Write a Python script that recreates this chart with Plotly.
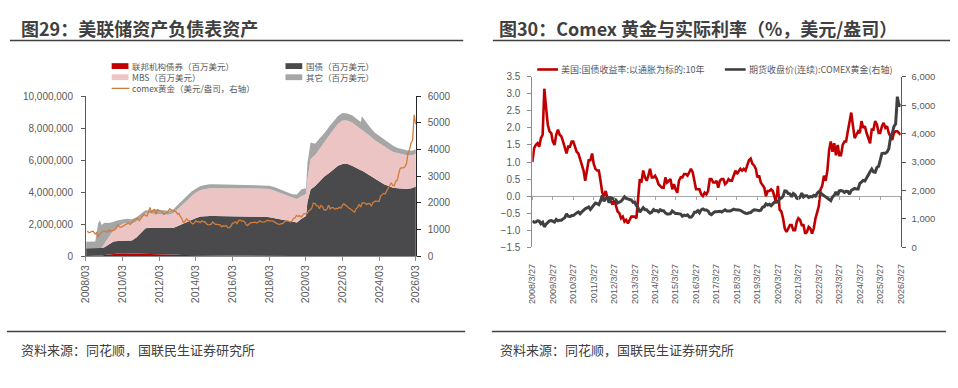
import plotly.graph_objects as go
import pandas as pd

# ---------------- Left chart data (百万美元) ----------------
bs_dates = [
    "2008-03-05", "2008-06-04", "2008-09-03", "2008-10-01", "2008-10-29", "2008-12-03", "2009-01-07",
    "2009-03-04", "2009-06-03", "2009-09-02", "2009-12-02",
    "2010-03-03", "2010-06-02", "2010-09-01", "2010-12-01",
    "2011-03-02", "2011-06-01", "2011-09-07", "2011-12-07",
    "2012-03-07", "2012-06-06", "2012-09-05", "2012-12-05",
    "2013-03-06", "2013-06-05", "2013-09-04", "2013-12-04",
    "2014-03-05", "2014-06-04", "2014-09-03", "2014-12-03",
    "2015-03-04", "2015-06-03", "2015-09-02", "2015-12-02",
    "2016-03-02", "2016-06-01", "2016-09-07", "2016-12-07",
    "2017-03-01", "2017-06-07", "2017-09-06", "2017-12-06",
    "2018-03-07", "2018-06-06", "2018-09-05", "2018-12-05",
    "2019-03-06", "2019-06-05", "2019-09-04", "2019-12-04",
    "2020-03-04", "2020-04-01", "2020-06-03", "2020-09-02", "2020-12-02",
    "2021-03-03", "2021-06-02", "2021-09-01", "2021-12-01",
    "2022-03-02", "2022-06-01", "2022-09-07", "2022-12-07",
    "2023-03-01", "2023-03-22", "2023-06-07", "2023-09-06", "2023-12-06",
    "2024-03-06", "2024-06-05", "2024-09-04", "2024-12-04",
    "2025-03-05", "2025-06-04", "2025-09-03", "2025-12-03",
    "2026-03-04",
]
agency_debt = [
    0, 0, 0, 0, 0, 20000, 30000, 60000, 100000, 140000, 160000,
    169000, 165000, 153000, 148000,
    135000, 115000, 108000, 104000,
    96000, 88000, 82000, 77000,
    72000, 64000, 60000, 57000,
    50000, 44000, 41000, 39000,
    37000, 35000, 34000, 33000,
    31000, 22000, 17000, 16000,
    13000, 11000, 7000, 4000,
    4000, 2400, 2400, 2400,
    2400, 2400, 2400, 2400,
    2400, 2400, 2400, 2400, 2400,
    2400, 2400, 2400, 2400,
    2400, 2400, 2400, 2400,
    2400, 2400, 2400, 2400, 2400,
    2400, 2400, 2400, 2400,
    2400, 2400, 2400, 2400,
    2400,
]
treasury = [
    480000, 478000, 479000, 476000, 476000, 476000, 475000, 490000, 640000, 770000, 776000,
    777000, 777000, 820000, 1016000,
    1330000, 1620000, 1660000, 1660000,
    1660000, 1660000, 1650000, 1670000,
    1800000, 1940000, 2080000, 2210000,
    2330000, 2420000, 2450000, 2460000,
    2460000, 2460000, 2460000, 2460000,
    2460000, 2460000, 2460000, 2460000,
    2460000, 2460000, 2460000, 2450000,
    2420000, 2360000, 2290000, 2230000,
    2170000, 2110000, 2090000, 2330000,
    2500000, 3370000, 4150000, 4370000, 4690000,
    4970000, 5170000, 5420000, 5650000,
    5760000, 5770000, 5650000, 5480000,
    5360000, 5340000, 5190000, 5000000, 4810000,
    4640000, 4480000, 4380000, 4270000,
    4240000, 4200000, 4190000, 4230000,
    4340000,
]
mbs = [
    0, 0, 0, 0, 0, 0, 0, 236000, 462000, 715000, 908000,
    1069000, 1118000, 1052000, 992000,
    952000, 918000, 886000, 849000,
    850000, 854000, 843000, 927000,
    1050000, 1190000, 1330000, 1490000,
    1600000, 1660000, 1710000, 1740000,
    1740000, 1730000, 1740000, 1750000,
    1750000, 1740000, 1740000, 1740000,
    1760000, 1770000, 1770000, 1760000,
    1760000, 1730000, 1690000, 1640000,
    1590000, 1540000, 1480000, 1410000,
    1370000, 1450000, 1920000, 1940000, 2040000,
    2180000, 2330000, 2480000, 2620000,
    2710000, 2710000, 2700000, 2650000,
    2600000, 2590000, 2550000, 2490000, 2430000,
    2400000, 2360000, 2300000, 2240000,
    2200000, 2160000, 2110000, 2070000,
    2030000,
]
other_assets = [
    420000, 420000, 430000, 1020000, 1550000, 1740000, 1440000, 1290000, 860000, 515000, 396000,
    275000, 270000, 275000, 264000,
    233000, 217000, 196000, 317000,
    264000, 268000, 235000, 236000,
    278000, 276000, 240000, 273000,
    240000, 256000, 239000, 251000,
    245000, 250000, 245000, 240000,
    240000, 245000, 240000, 245000,
    225000, 220000, 220000, 230000,
    216000, 218000, 208000, 208000,
    198000, 218000, 268000, 428000,
    368000, 998000, 1028000, 708000, 628000,
    528000, 568000, 548000, 488000,
    468000, 428000, 448000, 418000,
    418000, 808000, 648000, 548000, 468000,
    458000, 438000, 418000, 388000,
    318000, 318000, 308000, 278000,
    288000,
]

# COMEX gold (美元/盎司), monthly from 2008/03 to 2026/03
gold_price = [
    930, 880, 890, 930, 920, 830, 880, 720, 815, 880,                          # 2008
    930, 940, 920, 890, 980, 930, 955, 955, 1000, 1040, 1180, 1095,            # 2009
    1080, 1115, 1115, 1180, 1210, 1245, 1180, 1245, 1305, 1355, 1385, 1420,    # 2010
    1330, 1410, 1440, 1555, 1535, 1500, 1630, 1825, 1620, 1720, 1745, 1565,    # 2011
    1740, 1710, 1670, 1665, 1560, 1600, 1615, 1690, 1775, 1720, 1710, 1675,    # 2012
    1665, 1580, 1595, 1475, 1390, 1235, 1310, 1395, 1325, 1325, 1250, 1200,    # 2013
    1240, 1325, 1285, 1295, 1250, 1320, 1285, 1285, 1210, 1170, 1175, 1185,    # 2014
    1280, 1215, 1185, 1185, 1190, 1170, 1095, 1135, 1115, 1140, 1065, 1060,    # 2015
    1115, 1235, 1235, 1290, 1215, 1320, 1350, 1310, 1315, 1275, 1175, 1150,    # 2016
    1210, 1250, 1250, 1270, 1270, 1240, 1270, 1320, 1280, 1270, 1275, 1305,    # 2017
    1345, 1320, 1325, 1315, 1300, 1250, 1225, 1200, 1190, 1215, 1220, 1280,    # 2018
    1320, 1315, 1295, 1285, 1305, 1410, 1430, 1525, 1485, 1515, 1465, 1520,    # 2019
    1590, 1585, 1595, 1700, 1730, 1800, 1985, 1975, 1890, 1880, 1780, 1895,    # 2020
    1850, 1730, 1715, 1770, 1905, 1770, 1815, 1815, 1755, 1785, 1775, 1830,    # 2021
    1795, 1900, 1955, 1910, 1850, 1810, 1780, 1725, 1670, 1640, 1770, 1825,    # 2022
    1945, 1835, 1985, 2000, 1980, 1930, 1970, 1965, 1870, 2000, 2040, 2070,    # 2023
    2050, 2050, 2240, 2300, 2350, 2330, 2450, 2530, 2660, 2750, 2650, 2640,    # 2024
    2810, 2850, 3120, 3300, 3310, 3310, 3350, 3470, 3860, 4000, 4250, 4340,    # 2025
    5300, 4950, 5050,                                                          # 2026
]

# 美国:国债收益率:以通胀为标的:10年 (%), monthly from 2008/03 to 2026/03
real_yield = [
    1.0, 1.4, 1.5, 1.55, 1.45, 1.7, 1.8, 3.15, 2.6, 2.1,                       # 2008
    1.9, 1.85, 1.6, 1.5, 1.8, 1.95, 1.8, 1.75, 1.6, 1.4, 1.25, 1.45,           # 2009
    1.45, 1.6, 1.6, 1.45, 1.3, 1.25, 1.1, 0.95, 0.75, 0.45, 0.75, 1.05,        # 2010
    1.05, 1.25, 0.95, 0.8, 0.75, 0.75, 0.45, 0.1, 0.0, 0.15, -0.05, -0.05,     # 2011
    -0.15, -0.25, -0.1, -0.3, -0.45, -0.5, -0.65, -0.6, -0.75, -0.7, -0.8, -0.7,  # 2012
    -0.6, -0.6, -0.6, -0.65, -0.15, 0.5, 0.4, 0.75, 0.55, 0.45, 0.6, 0.8,      # 2013
    0.55, 0.55, 0.6, 0.5, 0.35, 0.3, 0.25, 0.25, 0.55, 0.4, 0.45, 0.5,         # 2014
    0.2, 0.35, 0.2, 0.1, 0.45, 0.55, 0.55, 0.65, 0.65, 0.6, 0.7, 0.8,          # 2015
    0.7, 0.4, 0.2, 0.2, 0.2, 0.05, 0.0, 0.1, 0.05, 0.15, 0.5, 0.5,             # 2016
    0.4, 0.4, 0.45, 0.25, 0.45, 0.5, 0.5, 0.35, 0.4, 0.5, 0.45, 0.45,          # 2017
    0.6, 0.75, 0.65, 0.75, 0.8, 0.75, 0.8, 0.75, 0.9, 1.05, 1.1, 0.95,         # 2018
    0.9, 0.8, 0.55, 0.6, 0.4, 0.3, 0.25, 0.0, 0.15, 0.15, 0.2, 0.15,           # 2019
    -0.05, -0.2, 0.3, -0.4, -0.45, -0.65, -0.95, -1.05, -0.95, -0.85, -0.85, -1.0,  # 2020
    -1.0, -0.75, -0.65, -0.7, -0.85, -0.85, -1.1, -1.05, -0.9, -0.95, -1.1, -0.95,  # 2021
    -0.65, -0.45, -0.3, 0.2, 0.3, 0.6, 0.45, 0.75, 1.35, 1.6, 1.3, 1.55,       # 2022
    1.2, 1.5, 1.2, 1.2, 1.5, 1.6, 1.6, 1.9, 2.2, 2.45, 2.05, 1.7,              # 2023
    1.8, 1.9, 1.85, 2.2, 2.0, 2.05, 1.85, 1.7, 1.55, 1.95, 1.95, 2.2,          # 2024
    2.1, 1.85, 1.85, 2.05, 2.15, 2.0, 2.05, 1.85, 1.75, 1.65, 1.85, 1.9,       # 2025
    1.9, 1.85, 1.8,                                                            # 2026
]

left_ticks = ["2008-03-01", "2010-03-01", "2012-03-01", "2014-03-01", "2016-03-01",
              "2018-03-01", "2020-03-01", "2022-03-01", "2024-03-01", "2026-03-01"]
left_ticktext = ["2008/03", "2010/03", "2012/03", "2014/03", "2016/03",
                 "2018/03", "2020/03", "2022/03", "2024/03", "2026/03"]
right_ticks = [f"{y}-03-27" for y in range(2008, 2027)]
right_ticktext = [f"{y}/3/27" for y in range(2008, 2027)]

monthly_dates = pd.date_range("2008-03-01", periods=len(gold_price), freq="MS") + pd.Timedelta(days=26)

# ---------------- Geometry helpers ----------------
W, H = 958, 388
def px(x): return x / W
def py(y): return 1 - y / H

CJK = "Noto Sans CJK SC"
LAT = "Liberation Sans"
TICKC = "#595959"

fig = go.Figure()

# Left: stacked areas
for name, vals, col in [
    ("联邦机构债券（百万美元）", agency_debt, "#c00000"),
    ("国债（百万美元）", treasury, "#4a4a4c"),
    ("MBS（百万美元）", mbs, "#ecc4c4"),
    ("其它（百万美元）", other_assets, "#a6a6a6"),
]:
    fig.add_trace(go.Scatter(x=bs_dates, y=vals, name=name, stackgroup="one",
                             mode="lines", line=dict(width=0, color=col),
                             fillcolor=col, xaxis="x", yaxis="y", showlegend=False))
fig.add_trace(go.Scatter(x=monthly_dates, y=gold_price, name="comex黄金（美元/盎司，右轴）",
                         mode="lines", line=dict(color="#d07c3a", width=1.3),
                         xaxis="x", yaxis="y2", showlegend=False))

# Right: real yield and gold
fig.add_trace(go.Scatter(x=monthly_dates, y=real_yield, name="美国:国债收益率:以通胀为标的:10年",
                         mode="lines", line=dict(color="#c00000", width=2.6),
                         xaxis="x2", yaxis="y3", showlegend=False))
fig.add_trace(go.Scatter(x=monthly_dates, y=gold_price, name="期货收盘价(连续):COMEX黄金(右轴)",
                         mode="lines", line=dict(color="#404040", width=3),
                         xaxis="x2", yaxis="y4", showlegend=False))
# invisible carrier for the zero-line tick axis
fig.add_trace(go.Scatter(x=monthly_dates, y=real_yield, mode="lines", line=dict(width=0),
                         opacity=0, hoverinfo="skip", xaxis="x3", yaxis="y3", showlegend=False))

L_x0, L_x1, L_y0, L_y1 = 80, 414, 93, 258
R_x0, R_x1, R_y0, R_y1 = 532, 905, 73, 249
zero_y = R_y1 - (1.5 / 5.0) * (R_y1 - R_y0)

tickfont = dict(family=LAT, size=10, color=TICKC)

fig.update_layout(
    width=W, height=H, margin=dict(l=0, r=0, t=0, b=0),
    paper_bgcolor="white", plot_bgcolor="rgba(0,0,0,0)",
    font=dict(family=LAT + ", " + CJK, color=TICKC),
    showlegend=False,
    xaxis=dict(domain=[px(L_x0), px(L_x1)], anchor="y", type="date",
               range=["2008-03-01", "2026-03-01"], tickvals=left_ticks, ticktext=left_ticktext,
               tickangle=-90, ticks="outside", ticklen=4, tickcolor="#8c8c8c",
               showline=True, linecolor="#8c8c8c", linewidth=1, showgrid=False, zeroline=False,
               tickfont=dict(family=LAT, size=10.5, color=TICKC)),
    yaxis=dict(domain=[py(L_y1), py(L_y0)], anchor="x", range=[0, 10000000],
               tickvals=[0, 2000000, 4000000, 6000000, 8000000, 10000000], tickformat=",",
               ticks="outside", ticklen=4, tickcolor="#595959", ticklabelstandoff=6,
               showline=True, linecolor="#595959", showgrid=False, zeroline=False, tickfont=tickfont),
    yaxis2=dict(overlaying="y", side="right", anchor="x", range=[0, 6000],
                tickvals=[0, 1000, 2000, 3000, 4000, 5000, 6000],
                ticks="outside", ticklen=4, tickcolor="#262626", ticklabelstandoff=5,
                showline=True, linecolor="#262626", showgrid=False, zeroline=False, tickfont=tickfont),
    xaxis2=dict(domain=[px(R_x0), px(R_x1)], anchor="y3", type="date",
                range=["2008-03-27", "2026-03-27"], tickvals=right_ticks, ticktext=right_ticktext,
                tickangle=-90, ticks="outside", ticklen=12, tickcolor="rgba(0,0,0,0)",
                showline=False, showgrid=False, zeroline=False,
                tickfont=dict(family=LAT, size=9, color=TICKC)),
    xaxis3=dict(overlaying="x2", anchor="free", position=py(zero_y), type="date",
                range=["2008-03-27", "2026-03-27"], tickvals=right_ticks,
                showticklabels=False, ticks="outside", ticklen=3, tickcolor="#a6a6a6",
                showline=False, showgrid=False, zeroline=False),
    yaxis3=dict(domain=[py(R_y1), py(R_y0)], anchor="x2", range=[-1.5, 3.5], dtick=0.5,
                tickformat=".1f", ticks="outside", ticklen=4, tickcolor="#8c8c8c", ticklabelstandoff=5,
                showline=True, linecolor="#8c8c8c", showgrid=False,
                zeroline=True, zerolinecolor="#a6a6a6", zerolinewidth=1.2,
                tickfont=tickfont),
    yaxis4=dict(overlaying="y3", side="right", anchor="x2", range=[0, 6000],
                tickvals=[0, 1000, 2000, 3000, 4000, 5000, 6000], tickformat=",",
                ticks="outside", ticklen=4, tickcolor="#595959", ticklabelstandoff=4,
                showline=True, linecolor="#595959", showgrid=False, zeroline=False,
                tickfont=dict(family=LAT, size=9.5, color=TICKC)),
)

shapes = []
annotations = []

def text(x, y, s, size, color, bold=False, anchor="left"):
    annotations.append(dict(xref="paper", yref="paper", x=px(x), y=py(y), text=s,
                            showarrow=False, xanchor=anchor, yanchor="middle",
                            font=dict(family=CJK, size=size, color=color,
                                      weight=700 if bold else 400)))

def hline(x0, x1, y, color, width):
    shapes.append(dict(type="line", xref="paper", yref="paper", x0=px(x0), x1=px(x1),
                       y0=py(y), y1=py(y), line=dict(color=color, width=width)))

def rect(x0, x1, y, h, color):
    shapes.append(dict(type="rect", xref="paper", yref="paper", x0=px(x0), x1=px(x1),
                       y0=py(y + h / 2), y1=py(y - h / 2), line=dict(width=0), fillcolor=color))

# Titles & rules
text(12, 23, "图29：美联储资产负债表资产", 18, "#404040", bold=True)
text(496, 23, "图30：Comex 黄金与实际利率（%，美元/盎司）", 18, "#404040", bold=True)
hline(3, 462, 35.5, "#404040", 1.5)
hline(492, 955, 35.5, "#404040", 1.5)
hline(0, 464, 336, "#404040", 1.5)
hline(491, 951, 336, "#404040", 1.5)
text(12, 354, "资料来源：同花顺，国联民生证券研究所", 13, "#404040")
text(497, 354, "资料来源：同花顺，国联民生证券研究所", 13, "#404040")

# Left legend
LEG = "#595959"
rect(106, 123, 62, 6, "#c00000");  text(125, 62, "联邦机构债券（百万美元）", 8.5, LEG)
rect(282, 299, 62, 6, "#4a4a4c");  text(301, 62, "国债（百万美元）", 8.5, LEG)
rect(106, 123, 73.5, 6, "#ecc4c4"); text(125, 73.5, "MBS（百万美元）", 8.5, LEG)
rect(282, 299, 73.5, 6, "#a6a6a6"); text(301, 73.5, "其它（百万美元）", 8.5, LEG)
hline(106, 124, 85, "#d07c3a", 1.3); text(125, 85, "comex黄金（美元/盎司，右轴）", 8.5, LEG)

# Right legend
hline(537, 558, 65.5, "#c00000", 2.6); text(559, 65.5, "美国:国债收益率:以通胀为标的:10年", 9, LEG)
hline(727, 748, 65.5, "#404040", 2.6); text(749, 65.5, "期货收盘价(连续):COMEX黄金(右轴)", 9, LEG)

fig.update_layout(shapes=shapes, annotations=annotations, hovermode=False)
fig.write_html("out.html",
               config={"displayModeBar": False, "staticPlot": True},
               post_script="document.body.style.margin='0';document.body.style.overflow='hidden';")
